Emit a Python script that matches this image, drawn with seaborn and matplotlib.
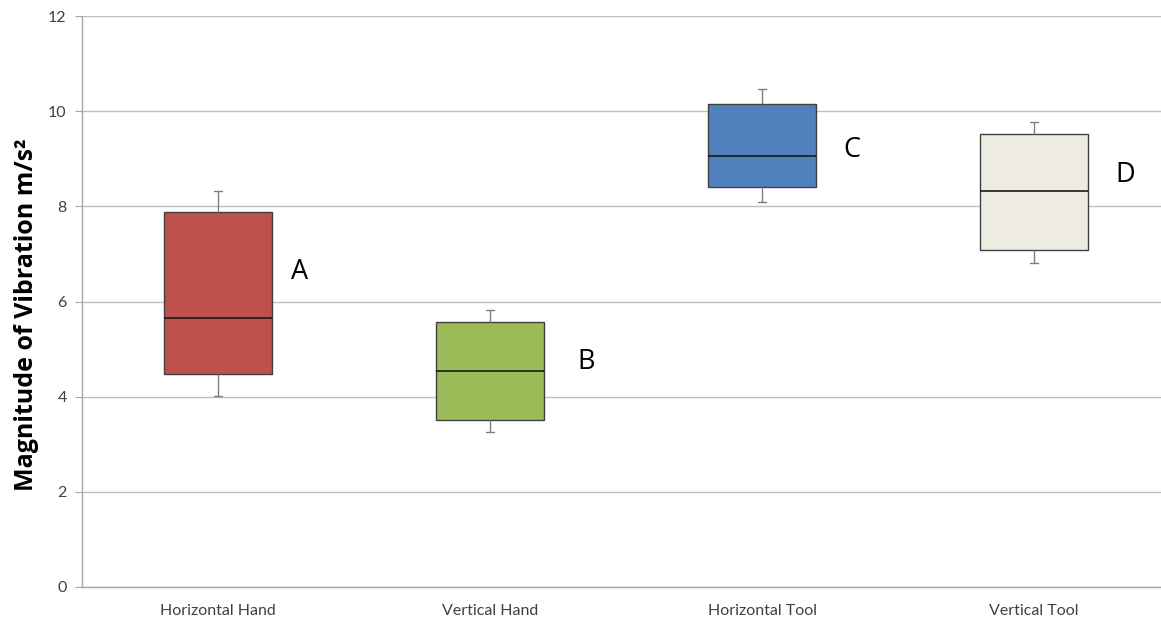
import matplotlib
matplotlib.use("Agg")
import matplotlib.pyplot as plt
import seaborn as sns
import pandas as pd

# Five-number summaries (m/s²) for each measurement condition
categories = ["Horizontal Hand", "Vertical Hand", "Horizontal Tool", "Vertical Tool"]
lower_whisker = [4.02, 3.26, 8.09, 6.80]
q1 = [4.48, 3.51, 8.40, 7.08]
median = [5.66, 4.53, 9.05, 8.32]
q3 = [7.88, 5.57, 10.16, 9.51]
upper_whisker = [8.32, 5.82, 10.46, 9.77]
box_colors = ["#C0504D", "#9BBB59", "#4F81BD", "#EEECE1"]
y_ticks = [0, 2, 4, 6, 8, 10, 12]

# Group letters and where they sit (category offset, value)
group_letters = ["A", "B", "C", "D"]
letter_x = [0.27, 1.32, 2.30, 3.30]
letter_y = [6.62, 4.73, 9.18, 8.66]

rows = []
for i, cat in enumerate(categories):
    for v in (lower_whisker[i], q1[i], median[i], q3[i], upper_whisker[i]):
        rows.append({"condition": cat, "value": v})
df = pd.DataFrame(rows)

sns.set_style("white")
plt.rcParams["font.family"] = ["Lato", "DejaVu Sans"]

W, H = 1161, 619
fig = plt.figure(figsize=(W / 100, H / 100), dpi=100)
ax = fig.add_axes([82 / W, 32 / H, 1088 / W, 571 / H])

sns.boxplot(
    data=df, x="condition", y="value", hue="condition",
    order=categories, hue_order=categories, palette=box_colors,
    width=0.4, whis=1.5, linewidth=1.0, fliersize=0, legend=False,
    saturation=1, ax=ax,
    boxprops=dict(edgecolor="#404040", linewidth=1.0),
    medianprops=dict(color="#1a1a1a", linewidth=1.2),
    whiskerprops=dict(color="#7f7f7f", linewidth=1.0),
    capprops=dict(color="#7f7f7f", linewidth=1.0),
    capwidths=0.03,
)

for i, letter in enumerate(group_letters):
    ax.text(letter_x[i], letter_y[i], letter, fontsize=19.5, va="center", ha="left",
            color="black", family=["Open Sans", "DejaVu Sans"])

ax.set_xlim(-0.5, 3.5)
ax.set_ylim(0, 12)
ax.set_yticks(y_ticks)
ax.set_yticklabels([str(t) for t in y_ticks])
ax.yaxis.grid(True, color="#BFBFBF", linewidth=1.0)
ax.set_axisbelow(True)

for side in ("top", "right"):
    ax.spines[side].set_visible(False)
for side in ("left", "bottom"):
    ax.spines[side].set_color("#A6A6A6")
    ax.spines[side].set_linewidth(1.0)

ax.set_xticks([0.5, 1.5, 2.5], minor=True)
ax.tick_params(axis="x", which="major", length=0, pad=12, labelsize=11.5, labelcolor="#404040")
ax.tick_params(axis="x", which="minor", length=5, color="#A6A6A6", direction="out")
ax.tick_params(axis="y", which="major", length=5, color="#A6A6A6", direction="out",
               left=True, pad=6, labelsize=11.5, labelcolor="#404040")

ax.set_xlabel("")
ax.set_ylabel("Magnitude of Vibration m/s²", fontsize=18, fontweight="bold",
              color="black", family=["Open Sans", "DejaVu Sans"])
ax.yaxis.set_label_coords(-0.0395, 0.476)

fig.savefig("out.png", dpi=100)
